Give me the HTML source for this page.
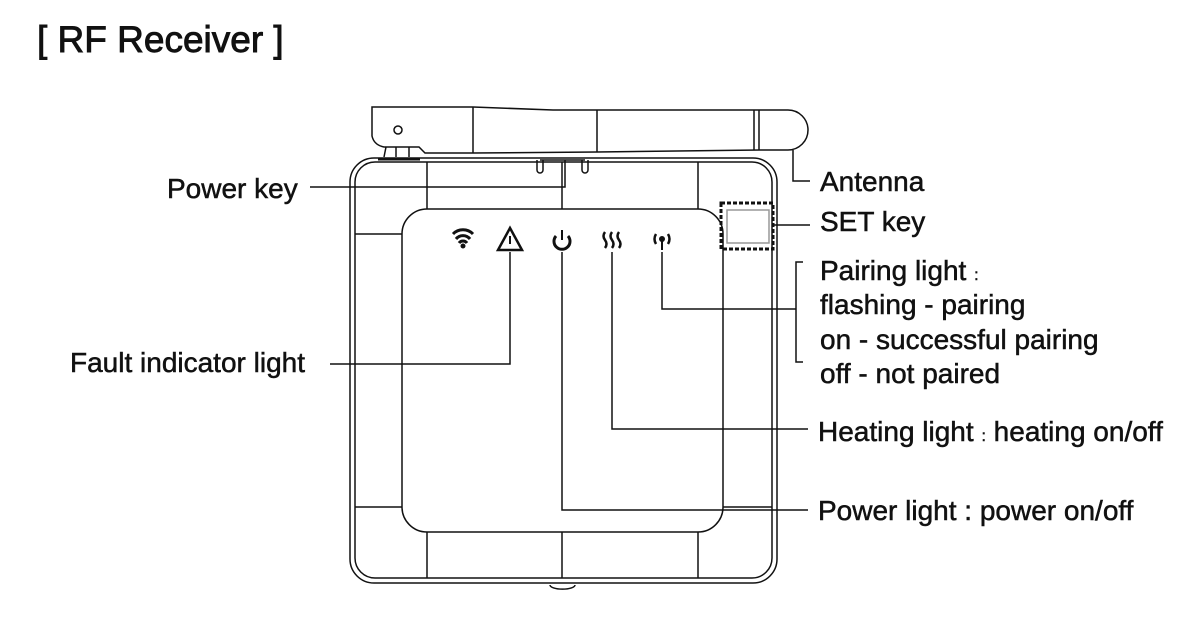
<!DOCTYPE html>
<html><head><meta charset="utf-8"><style>
html,body{margin:0;padding:0;background:#fff;}
svg{display:block;}
text{font-family:"Liberation Sans",sans-serif;fill:#111;stroke:#111;stroke-width:0.5;}
</style></head><body>
<svg width="1194" height="630" viewBox="0 0 1194 630" xmlns="http://www.w3.org/2000/svg">
<text x="37" y="52" font-size="37" style="stroke-width:0.9">[ RF Receiver ]</text>
<g fill="none" stroke="#111" stroke-width="1.5">
<!-- antenna -->
<path d="M372 107 L473 107 L553 110 L597 110 L788 110 A20 20 0 0 1 788 150 L760 150 L597 152 L473 153 L425 153 L419 147 L384 147 Q374 145 372 136 Z"/>
<line x1="473" y1="107" x2="473" y2="153"/>
<line x1="597" y1="110" x2="597" y2="152"/>
<line x1="754" y1="110" x2="754" y2="150"/>
<line x1="759" y1="110" x2="759" y2="150"/>
<circle cx="398" cy="130" r="4"/>
<path d="M386 147 L384 157 M396 147 L396 157 M409 147 L409 157"/>
<!-- outer body -->
<rect x="350" y="158" width="427" height="425" rx="24"/>
<rect x="355" y="162" width="417" height="416" rx="20"/>
<line x1="378" y1="159" x2="420" y2="159" stroke-width="3"/>
<!-- panel -->
<rect x="402" y="209" width="321" height="323" rx="25"/>
<line x1="427" y1="162" x2="427" y2="209"/>
<line x1="562" y1="162" x2="562" y2="209"/>
<line x1="698" y1="162" x2="698" y2="209"/>
<line x1="427" y1="532" x2="427" y2="578"/>
<line x1="562" y1="532" x2="562" y2="578"/>
<line x1="698" y1="532" x2="698" y2="578"/>
<line x1="355" y1="234" x2="402" y2="234"/>
<line x1="355" y1="507" x2="402" y2="507"/>
<line x1="723" y1="507" x2="772" y2="507"/>
<path d="M550 585 A12 4 0 0 0 575 585"/>
<!-- power key pins -->
<path d="M537 160 L537 170 A3 3 0 0 0 543 170 L543 160"/>
<path d="M582 160 L582 170 A3 3 0 0 0 588 170 L588 160"/>
<line x1="540" y1="160" x2="585" y2="160"/>
<!-- SET key -->
<rect x="721" y="203" width="52" height="46" stroke-dasharray="4 2" stroke-width="3"/>
<rect x="727" y="210" width="42" height="33" stroke="#999"/>
<!-- leaders -->
<path d="M310 187 L565 187 L565 160"/>
<path d="M793 150 L793 181 L810 181"/>
<line x1="773" y1="225" x2="810" y2="225"/>
<path d="M510 252 L510 364 L330 364"/>
<path d="M562 252 L562 510 L808 510"/>
<path d="M612 252 L612 429 L808 429"/>
<path d="M662 252 L662 309 L796 309"/>
<path d="M803 262 L796 262 L796 362 L803 362"/>
</g>
<!-- icons -->
<g fill="none" stroke="#111" stroke-width="3">
<path d="M453 234 A14 14 0 0 1 473 234"/>
<path d="M456 239 A9 9 0 0 1 470 239"/>
<path d="M459 243 A5 5 0 0 1 467 243"/>
<path d="M510 228 L522 250 L498 250 Z" stroke-width="2.5"/>
<path d="M556 236 A8 8 0 1 0 568 236"/>
<line x1="562" y1="230" x2="562" y2="240" stroke-width="2"/>
<path d="M605 232 q-3 4 0 8 q3 4 0 8 M612 232 q-3 4 0 8 q3 4 0 8 M619 232 q-3 4 0 8 q3 4 0 8" stroke-width="2.5"/>
<path d="M656 234 q-3 5 0 10 M668 234 q3 5 0 10" stroke-width="2.5"/>
<line x1="662" y1="238" x2="662" y2="250" stroke-width="2"/>
</g>
<circle cx="463" cy="246" r="2.5" fill="#111"/>
<circle cx="662" cy="239" r="3" fill="#111"/>
<line x1="510" y1="236" x2="510" y2="244" stroke="#111" stroke-width="2"/>
<!-- labels -->
<g font-size="28">
<text x="167" y="198">Power key</text>
<text x="820" y="191">Antenna</text>
<text x="820" y="231">SET key</text>
<text x="820" y="280">Pairing light <tspan font-size="16">:</tspan></text>
<text x="820" y="314">flashing - pairing</text>
<text x="820" y="349">on - successful pairing</text>
<text x="820" y="383">off - not paired</text>
<text x="70" y="372">Fault indicator light</text>
<text x="818" y="441">Heating light <tspan font-size="16">:</tspan> heating on/off</text>
<text x="818" y="520">Power light : power on/off</text>
</g>
</svg>
</body></html>
